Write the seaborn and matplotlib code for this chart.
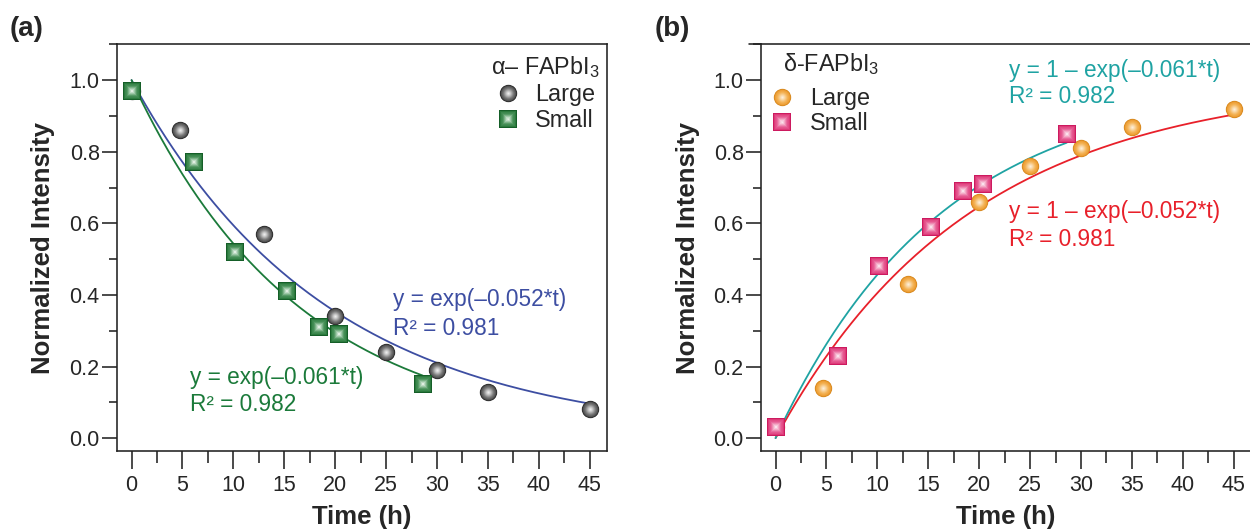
import numpy as np
import pandas as pd
import seaborn as sns
import matplotlib
matplotlib.use("Agg")
import matplotlib.pyplot as plt
from matplotlib.lines import Line2D
from matplotlib.legend_handler import HandlerTuple
from matplotlib.ticker import MultipleLocator, FixedLocator
from matplotlib.colors import to_rgb

# ---------------- data ----------------
a_large_t = [0, 4.8, 13, 20, 25, 30, 35, 45]
a_large_y = [0.97, 0.86, 0.57, 0.34, 0.24, 0.19, 0.13, 0.08]
a_small_t = [0, 6.1, 10.2, 15.3, 18.4, 20.4, 28.6]
a_small_y = [0.97, 0.77, 0.52, 0.41, 0.31, 0.29, 0.15]

b_large_t = [0, 4.7, 13, 20, 25, 30, 35, 45]
b_large_y = [0.03, 0.14, 0.43, 0.66, 0.76, 0.81, 0.87, 0.92]
b_small_t = [0, 6.1, 10.2, 15.3, 18.4, 20.4, 28.6]
b_small_y = [0.03, 0.23, 0.48, 0.59, 0.69, 0.71, 0.85]

k_large = 0.052   # fitted rate, large grains
k_small = 0.061   # fitted rate, small grains
t_end_large = 45
t_end_small = 28.6

xticks = [0, 5, 10, 15, 20, 25, 30, 35, 40, 45]
yticks = [0.0, 0.2, 0.4, 0.6, 0.8, 1.0]
series_labels = ["Large", "Small"]

# ---------------- style ----------------
sns.set_style("ticks")
plt.rcParams["font.family"] = ["Liberation Sans", "DejaVu Sans"]
plt.rcParams["mathtext.fontset"] = "custom"
plt.rcParams["mathtext.rm"] = "Liberation Sans"
plt.rcParams["mathtext.it"] = "Liberation Sans"

SPINE = "#222222"
LW = 1.15
MS = 12.5  # marker size in points
TICK_FS = 15.5
ANN_FS = 16.3
LEG_FS = 16.8
LAB_FS = 18.5

stops_gray = [(1.0, "#262626"), (0.88, "#505050"), (0.6, "#7c7c7c"),
              (0.28, "#c6c6c6"), (0.0, "#fafafa")]
stops_green = [(1.0, "#155e28"), (0.88, "#2b7a3d"), (0.6, "#4f9660"),
               (0.28, "#a9cfb1"), (0.0, "#f6fbf6")]
stops_orange = [(1.0, "#d4861c"), (0.88, "#ee9e34"), (0.6, "#f4b457"),
                (0.28, "#fad8a6"), (0.0, "#fff6e8")]
stops_pink = [(1.0, "#cc1a5f"), (0.88, "#de3a78"), (0.6, "#e8659a"),
              (0.28, "#f5b5cd"), (0.0, "#fef4f8")]
layer_fracs = np.linspace(1.0, 0.08, 16)


def stop_color(stops, f):
    fs = [s[0] for s in stops][::-1]
    cs = np.array([to_rgb(s[1]) for s in stops])[::-1]
    return tuple(np.interp(f, fs, cs[:, k]) for k in range(3))


C_BLUE = "#3d4ea2"
C_GREEN = "#1b7a3a"
C_TEAL = "#1fa3a3"
C_RED = "#e8202a"

fig = plt.figure(figsize=(12.5, 5.29), dpi=100)
W, H = 1250, 529
AX_TOP, AX_BOT, AX_W = 44, 451, 490


def add_axes(left_px):
    return fig.add_axes([left_px / W, 1 - AX_BOT / H, AX_W / W, (AX_BOT - AX_TOP) / H])


def grad_scatter(ax, x, y, marker, stops):
    df = pd.DataFrame({"t": x, "v": y})
    for f in layer_fracs:
        sns.scatterplot(data=df, x="t", y="v", ax=ax, marker=marker,
                        s=(MS * f) ** 2, color=stop_color(stops, f),
                        linewidth=0, zorder=3, legend=False)


def legend_handle(marker, stops):
    return tuple(Line2D([], [], marker=marker, ls="", markersize=MS * f,
                        markerfacecolor=stop_color(stops, f), markeredgewidth=0)
                 for f in layer_fracs)


def style_axes(ax):
    ax.set_xlim(-1.43, 46.7)
    ax.set_ylim(-0.036, 1.101)
    for s in ax.spines.values():
        s.set_visible(True)
        s.set_color(SPINE)
        s.set_linewidth(LW)
    ax.yaxis.set_major_locator(FixedLocator(yticks))
    ax.yaxis.set_minor_locator(MultipleLocator(0.1))
    ax.set_yticklabels([f"{v:.1f}" for v in yticks])
    ax.xaxis.set_major_locator(FixedLocator(xticks))
    ax.xaxis.set_minor_locator(MultipleLocator(2.5))
    ax.set_xticklabels([str(v) for v in xticks])
    ax.tick_params(axis="y", which="major", direction="out", length=10.5,
                   width=LW, color=SPINE, labelsize=TICK_FS, pad=2)
    ax.tick_params(axis="y", which="minor", direction="out", length=6,
                   width=LW, color=SPINE)
    ax.tick_params(axis="x", which="major", direction="out", length=13,
                   width=LW, color=SPINE, labelsize=TICK_FS, pad=4)
    ax.tick_params(axis="x", which="minor", direction="out", length=8.5,
                   width=LW, color=SPINE)
    ax.set_xlabel("Time (h)", fontsize=LAB_FS, fontweight="bold", labelpad=7)
    ax.set_ylabel("Normalized Intensity", fontsize=LAB_FS, fontweight="bold",
                  labelpad=10)


def add_legend(ax, handles, anchor):
    ax.legend(handles=handles, labels=series_labels,
              handler_map={tuple: HandlerTuple(ndivide=1, pad=0)},
              fontsize=LEG_FS, frameon=False, loc="upper left",
              bbox_to_anchor=anchor, borderaxespad=0, borderpad=0,
              handlelength=0.78, handletextpad=0.78, labelspacing=0.1)


# ---------------- panel (a) ----------------
axa = add_axes(117)
t_l = np.linspace(0, t_end_large, 200)
t_s = np.linspace(0, t_end_small, 200)
sns.lineplot(x=t_l, y=np.exp(-k_large * t_l), ax=axa, color=C_BLUE, lw=1.3, zorder=2)
sns.lineplot(x=t_s, y=np.exp(-k_small * t_s), ax=axa, color=C_GREEN, lw=1.3, zorder=2)
grad_scatter(axa, a_large_t, a_large_y, "o", stops_gray)
grad_scatter(axa, a_small_t, a_small_y, "s", stops_green)
style_axes(axa)

axa.text(25.7, 0.387, "y = exp(–0.052*t)", color=C_BLUE, fontsize=ANN_FS, va="center")
axa.text(25.7, 0.307, "R² = 0.981", color=C_BLUE, fontsize=ANN_FS, va="center")
axa.text(5.7, 0.17, "y = exp(–0.061*t)", color=C_GREEN, fontsize=ANN_FS, va="center")
axa.text(5.7, 0.094, "R² = 0.982", color=C_GREEN, fontsize=ANN_FS, va="center")

add_legend(axa, [legend_handle("o", stops_gray), legend_handle("s", stops_green)],
           (0.779, 0.903))
axa.text(0.9857, 0.926, "α– FAPbI$_3$", transform=axa.transAxes, ha="right",
         va="baseline", fontsize=LEG_FS)

# ---------------- panel (b) ----------------
axb = add_axes(761)
sns.lineplot(x=t_l, y=1 - np.exp(-k_large * t_l), ax=axb, color=C_RED, lw=1.3, zorder=2)
sns.lineplot(x=t_s, y=1 - np.exp(-k_small * t_s), ax=axb, color=C_TEAL, lw=1.3, zorder=2)
grad_scatter(axb, b_large_t, b_large_y, "o", stops_orange)
grad_scatter(axb, b_small_t, b_small_y, "s", stops_pink)
style_axes(axb)

axb.text(22.9, 1.028, "y = 1 – exp(–0.061*t)", color=C_TEAL, fontsize=ANN_FS, va="center")
axb.text(22.9, 0.953, "R² = 0.982", color=C_TEAL, fontsize=ANN_FS, va="center")
axb.text(22.9, 0.632, "y = 1 – exp(–0.052*t)", color=C_RED, fontsize=ANN_FS, va="center")
axb.text(22.9, 0.555, "R² = 0.981", color=C_RED, fontsize=ANN_FS, va="center")

add_legend(axb, [legend_handle("o", stops_orange), legend_handle("s", stops_pink)],
           (0.025, 0.895))
axb.text(0.0443, 0.934, "δ-FAPbI$_3$", transform=axb.transAxes, ha="left",
         va="baseline", fontsize=LEG_FS)

# small overhang of the top frame line at panel (b)
fig.add_artist(Line2D([749 / W, 761 / W], [1 - AX_TOP / H, 1 - AX_TOP / H],
                      transform=fig.transFigure, color=SPINE, lw=LW))

fig.text(10 / W, 1 - 29 / H, "(a)", fontsize=20, fontweight="bold", va="center")
fig.text(655 / W, 1 - 29 / H, "(b)", fontsize=20, fontweight="bold", va="center")

fig.savefig("out.png", dpi=100)
